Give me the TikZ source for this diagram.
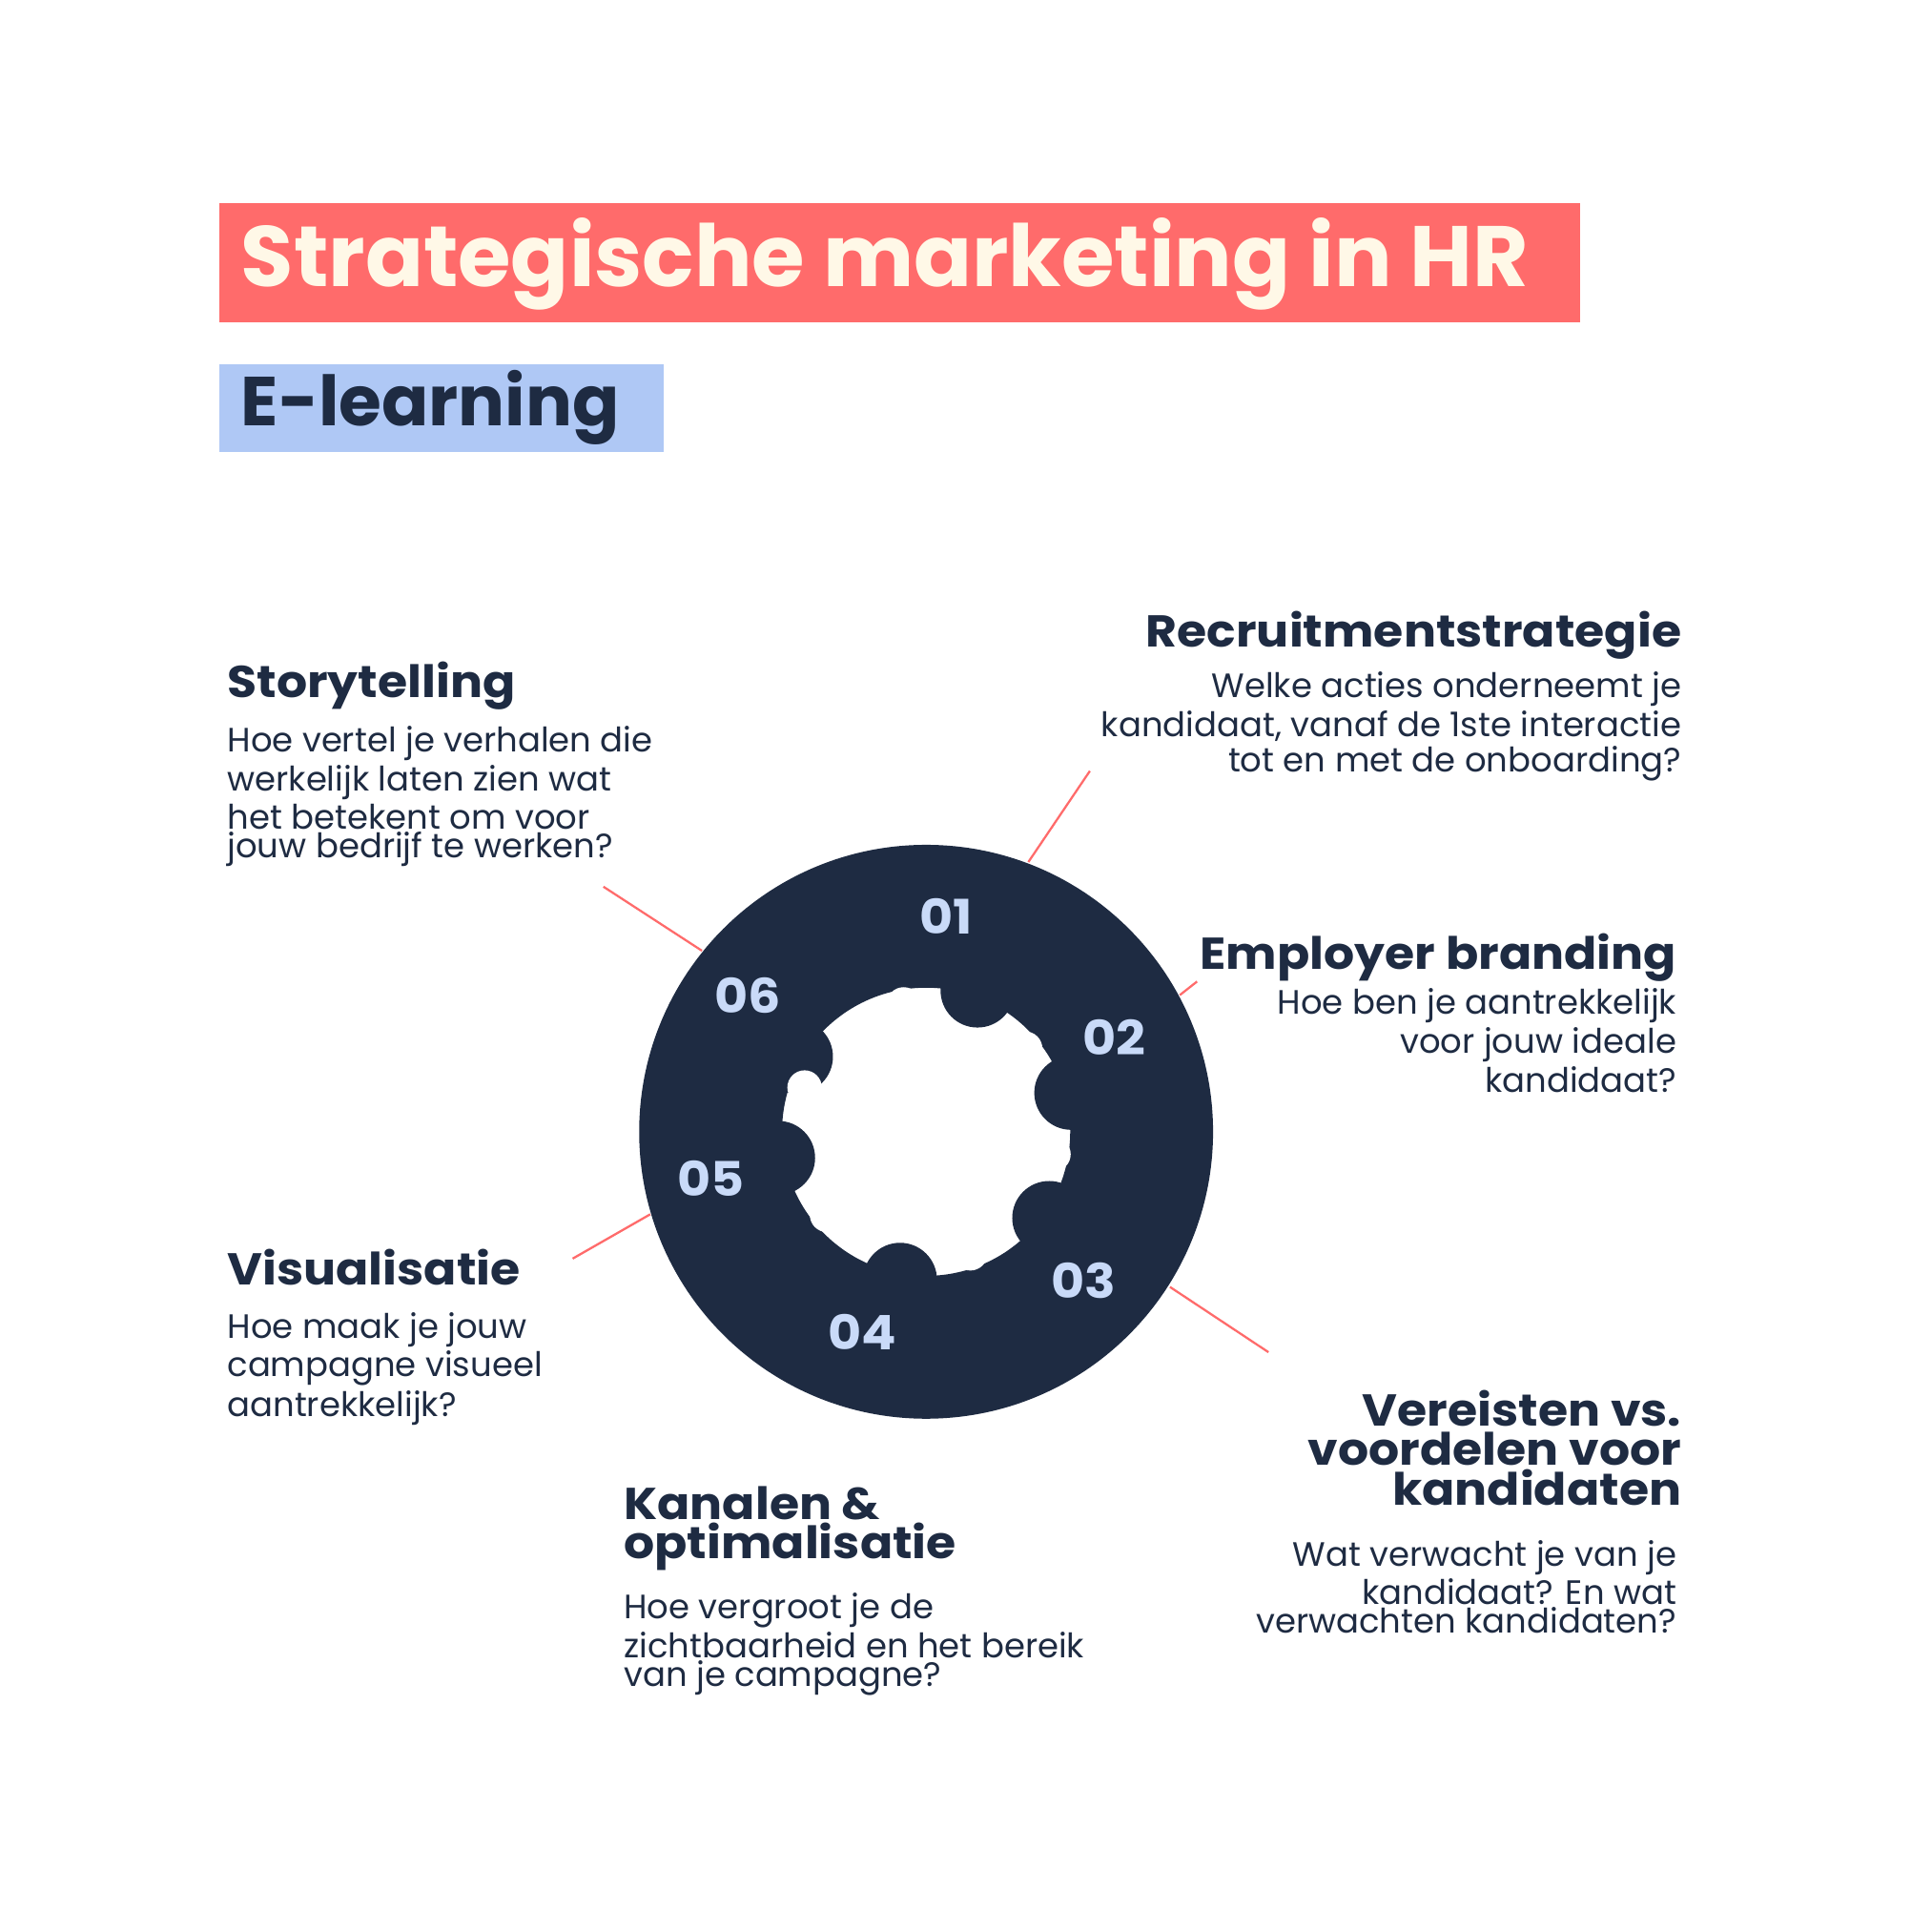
\documentclass[tikz,border=0pt]{standalone}
\usepackage{fontspec}
\setmainfont{Poppins}
\newfontfamily\headfont{Poppins}[FakeStretch=1.08]
\usetikzlibrary{positioning, calc}
\definecolor{coral}{HTML}{FF6B6B}
\definecolor{cream}{HTML}{FFF8E7}
\definecolor{sky}{HTML}{AFC8F5}
\definecolor{navy}{HTML}{1E2B42}
\definecolor{pale}{HTML}{C9DAF8}
\tikzset{
  head/.style={text=navy, font=\headfont\bfseries\fontsize{10.3}{9.2}\selectfont, inner sep=0pt},
  body/.style={text=navy, font=\fontsize{7.8}{6.6}\selectfont, inner sep=0pt},
  num/.style={text=pale, font=\headfont\bfseries\fontsize{11}{11}\selectfont},
  lead/.style={coral, line width=0.5pt}
}
\begin{document}
\begin{tikzpicture}[x=0.01cm, y=-0.01cm]
\useasboundingbox (0,0) rectangle (1568,1568);
% title bars
\fill[coral] (178,165) rectangle (1283,262);
\node[anchor=west, inner sep=0pt, text=cream, font=\bfseries\fontsize{19.8}{20}\selectfont] (title) at (195,214) {Strategische marketing in HR};
\fill[sky] (178,296) rectangle (539,367);
\node[anchor=west, inner sep=0pt, text=navy, font=\bfseries\fontsize{16}{16}\selectfont] (sub) at (195,331) {E-learning};
% ring
\coordinate (c) at (752,919);
\fill[navy, even odd rule] (c) circle (233) (c) circle (117);
\foreach \a in {-70,-15,35,100,170,-150}
  \fill[navy] ($(c)+(\a:122)$) circle (30);
\foreach \a in {-100,-40,10,70,140,200}
  \fill[white] ($(c)+(\a:105)$) circle (14);
\node[num] (n1) at (768,744) {01};
\node[num] (n2) at (905,842) {02};
\node[num] (n3) at (880,1040) {03};
\node[num] (n4) at (700,1082) {04};
\node[num] (n5) at (577,957) {05};
\node[num] (n6) at (607,808) {06};
% leader lines
\coordinate (l1) at (885,626); \coordinate (r1) at (835,700);
\coordinate (l2) at (972,797); \coordinate (r2) at (958,808);
\coordinate (l3) at (1030,1098); \coordinate (r3) at (950,1045);
\coordinate (l5) at (465,1022); \coordinate (r5) at (528,986);
\coordinate (l6) at (490,720); \coordinate (r6) at (570,772);
\foreach \i in {1,2,3,5,6} \draw[lead] (l\i) -- (r\i);
% texts
\node[head, anchor=north east] (h1) at (1366,496) {Recruitmentstrategie};
\node[body, anchor=north east, align=right] (b1) at (1366,545) {Welke acties onderneemt je\\kandidaat, vanaf de 1ste interactie\\tot en met de onboarding?};
\node[head, anchor=north east] (h2) at (1362,757) {Employer branding};
\node[body, anchor=north east, align=right] (b2) at (1362,802) {Hoe ben je aantrekkelijk\\voor jouw ideale\\kandidaat?};
\node[head, anchor=north east, align=right] (h3) at (1366,1128) {Vereisten vs.\\voordelen voor\\kandidaten};
\node[body, anchor=north east, align=right] (b3) at (1362,1250) {Wat verwacht je van je\\kandidaat? En wat\\verwachten kandidaten?};
\node[head, anchor=north west, align=left] (h4) at (506,1206) {Kanalen \&\\optimalisatie};
\node[body, anchor=north west, align=left] (b4) at (506,1293) {Hoe vergroot je de\\zichtbaarheid en het bereik\\van je campagne?};
\node[head, anchor=north west] (h5) at (184,1014) {Visualisatie};
\node[body, anchor=north west, align=left] (b5) at (184,1065) {Hoe maak je jouw\\campagne visueel\\aantrekkelijk?};
\node[head, anchor=north west] (h6) at (184,537) {Storytelling};
\node[body, anchor=north west, align=left] (b6) at (184,589) {Hoe vertel je verhalen die\\werkelijk laten zien wat\\het betekent om voor\\jouw bedrijf te werken?};
\end{tikzpicture}
\end{document}
